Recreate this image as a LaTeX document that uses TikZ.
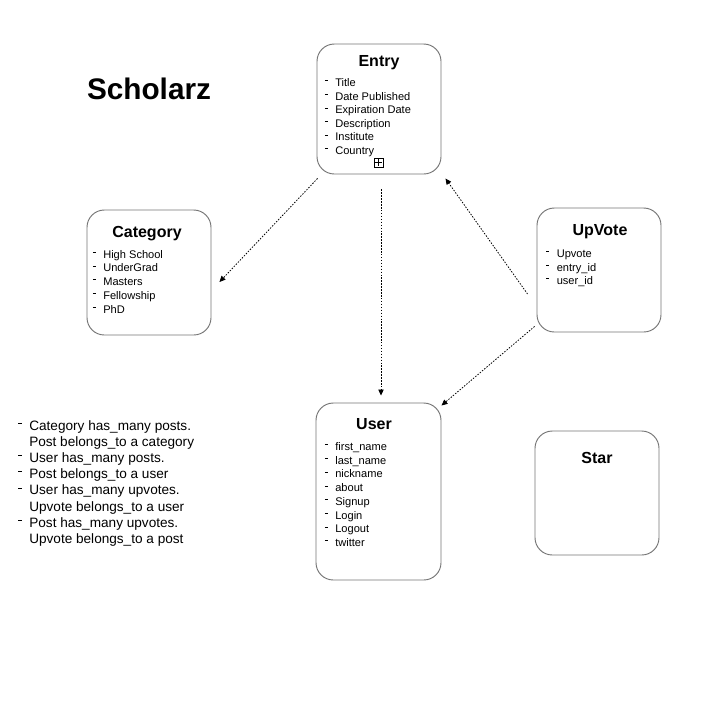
\documentclass[tikz,border=0pt]{standalone}
\usepackage{fontspec}
\setmainfont{Liberation Sans}
\usetikzlibrary{arrows.meta,calc}

% short raised bar used as the bullet of every field
\newcommand{\fielddash}{\makebox[7.9pt][l]{\rule[3.9pt]{2.3pt}{0.65pt}}}
\newcommand{\notedash}{\makebox[8.3pt][l]{\rule[4.6pt]{3pt}{0.75pt}}}

\tikzset{
  entity/.style={draw=black!55, line width=0.7pt, rounded corners=13pt, inner sep=0pt},
  heading/.style={anchor=base, inner sep=0pt, font=\bfseries\fontsize{12}{14}\selectfont},
  field/.style={anchor=base west, inner sep=0pt, font=\fontsize{8.3}{10}\selectfont},
  note/.style={anchor=base west, inner sep=0pt, font=\fontsize{10.2}{12}\selectfont},
  link/.style={line width=0.6pt, dash pattern=on 1.1pt off 1.1pt,
    -{Triangle[length=4.5pt,width=4pt]}},
}

\begin{document}
\begin{tikzpicture}[x=0.75pt, y=-0.75pt]
  \useasboundingbox (0,0) rectangle (725,708);

  % title
  \node[anchor=base, inner sep=0pt, font=\bfseries\fontsize{22.3}{26}\selectfont]
    (apptitle) at (149,99.5) {Scholarz};

  % entity boxes
  \node[entity, minimum width=93pt, minimum height=97.5pt] (entry) at (379,109) {};
  \node[entity, minimum width=93pt, minimum height=93.75pt] (category) at (149,272.5) {};
  \node[entity, minimum width=93pt, minimum height=93pt] (upvote) at (599,270) {};
  \node[entity, minimum width=93.75pt, minimum height=132.75pt] (user) at (378.5,491.5) {};
  \node[entity, minimum width=93pt, minimum height=93pt] (star) at (597,493) {};

  % headings
  \node[heading] (entrytitle) at (379,66) {Entry};
  \node[heading] (categorytitle) at (147,237) {Category};
  \node[heading] (upvotetitle) at (600,235) {UpVote};
  \node[heading] (usertitle) at (374,429) {User};
  \node[heading] (startitle) at (597,463) {Star};

  % Entry fields
  \foreach \t [count=\i from 0] in {Title, Date Published, Expiration Date,
      Description, Institute, Country}
    \node[field] (entryf\i) at (324.5, 86.5+13.6*\i) {\fielddash\t};
  % expand marker
  \node[draw, line width=0.5pt, minimum size=6.75pt, inner sep=0pt,
    path picture={
      \draw[line width=0.5pt] ([xshift=0.9pt]path picture bounding box.west)
        -- ([xshift=-0.9pt]path picture bounding box.east);
      \draw[line width=0.5pt] ([yshift=-0.9pt]path picture bounding box.north)
        -- ([yshift=0.9pt]path picture bounding box.south);
    }] (entryplus) at (378.5,162.5) {};

  % Category fields
  \foreach \t [count=\i from 0] in {High School, UnderGrad, Masters, Fellowship, PhD}
    \node[field] (categoryf\i) at (92.5, 258+13.75*\i) {\fielddash\t};

  % UpVote fields
  \foreach \t [count=\i from 0] in {Upvote, entry\_id, user\_id}
    \node[field] (upvotef\i) at (546, 257.5+13.5*\i) {\fielddash\t};

  % User fields
  \foreach \t [count=\i from 0] in {first\_name, last\_name, nickname, about,
      Signup, Login, Logout, twitter}
    \node[field] (userf\i) at (324.5, 450.5+13.7*\i) {\fielddash\t};

  % associations
  \node[note] (n0) at (18,430) {\notedash Category has\_many posts.};
  \node[note] (n1) at (29,446.2) {Post belongs\_to a category};
  \node[note] (n2) at (18,462.4) {\notedash User has\_many posts.};
  \node[note] (n3) at (18,478.6) {\notedash Post belongs\_to a user};
  \node[note] (n4) at (18,494.8) {\notedash User has\_many upvotes.};
  \node[note] (n5) at (29,511) {Upvote belongs\_to a user};
  \node[note] (n6) at (18,527.2) {\notedash Post has\_many upvotes.};
  \node[note] (n7) at (29,543.4) {Upvote belongs\_to a post};

  % connectors
  \draw[link] ($(entry.south west)+(1,4)$) -- ($(category.east)+(8,9.5)$);
  \draw[link] ($(entry.south)+(2,15)$) -- ($(user.north)+(2.5,-7)$);
  \draw[link] ($(upvote.west)+(-9,24)$) -- ($(entry.south east)+(4,4)$);
  \draw[link] ($(upvote.south west)+(-2,-6)$) -- ($(user.north east)+(0,3)$);
\end{tikzpicture}
\end{document}
